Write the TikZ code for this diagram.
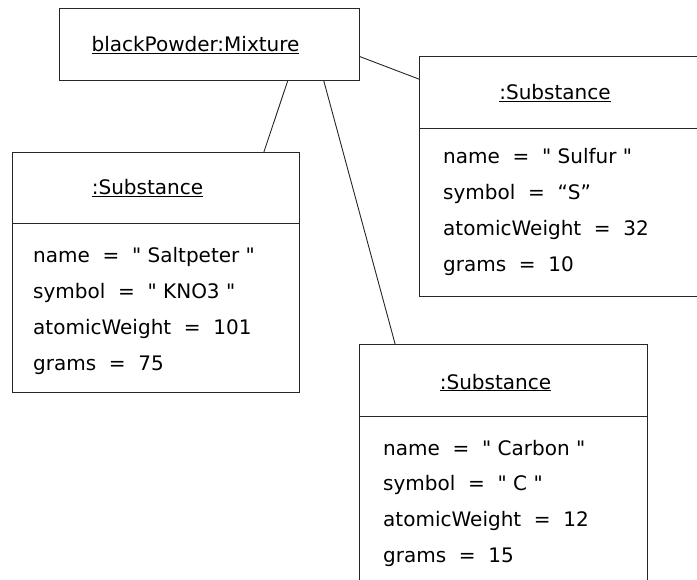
\documentclass[tikz,border=0pt]{standalone}
\usepackage{fontspec}
\newfontfamily\umlfont{DejaVu Sans}
\usetikzlibrary{calc}
\tikzset{
  objbox/.style={draw=black!85, line width=0.9pt, rectangle, inner sep=0pt, anchor=north west},
  ttl/.style={anchor=base, inner sep=0pt, font=\umlfont\fontsize{20}{24}\selectfont},
  attr/.style={anchor=base west, inner sep=0pt, font=\umlfont\fontsize{20}{24}\selectfont},
  link/.style={draw=black!85, line width=0.9pt},
  divider/.style={draw=black!85, line width=0.9pt}
}
\begin{document}
\begin{tikzpicture}[x=1pt,y=-1pt]
\useasboundingbox (0,0) rectangle (697,580);
\clip (0,0) rectangle (697,580);
% boxes
\node[objbox, minimum width=300pt, minimum height=72pt] (mix) at (59,8) {};
\node[objbox, minimum width=287pt, minimum height=240pt] (lb) at (12,152) {};
\node[objbox, minimum width=300pt, minimum height=240pt] (rb) at (419,56) {};
\node[objbox, minimum width=288pt, minimum height=260pt] (bb) at (359,344) {};
% dividers
\draw[divider] ($(lb.north west)+(0,71)$) -- ($(lb.north east)+(0,71)$);
\draw[divider] ($(rb.north west)+(0,72)$) -- ($(rb.north east)+(0,72)$);
\draw[divider] ($(bb.north west)+(0,72)$) -- ($(bb.north east)+(0,72)$);
% titles
\node[ttl] (mixT) at (195.5,52) {\underline{blackPowder:Mixture}};
\node[ttl] (lbT) at (147.5,195) {\underline{:Substance}};
\node[ttl] (rbT) at (555,100) {\underline{:Substance}};
\node[ttl] (bbT) at (495.5,389) {\underline{:Substance}};
% attributes left
\node[attr] (lb1) at (33,263) {name\ \ =\ \ " Saltpeter "};
\node[attr] (lb2) at (33,299) {symbol\ \ =\ \ " KNO3 "};
\node[attr] (lb3) at (33,335) {atomicWeight\ \ =\ \ 101};
\node[attr] (lb4) at (33,371) {grams\ \ =\ \ 75};
% attributes right
\node[attr] (rb1) at (443,164) {name\ \ =\ \ " Sulfur "};
\node[attr] (rb2) at (443,200) {symbol\ \ =\ \ “S”};
\node[attr] (rb3) at (443,236) {atomicWeight\ \ =\ \ 32};
\node[attr] (rb4) at (443,272) {grams\ \ =\ \ 10};
% attributes bottom
\node[attr] (bb1) at (383,455) {name\ \ =\ \ " Carbon "};
\node[attr] (bb2) at (383,490) {symbol\ \ =\ \ " C "};
\node[attr] (bb3) at (383,526) {atomicWeight\ \ =\ \ 12};
\node[attr] (bb4) at (383,562) {grams\ \ =\ \ 15};
% links
\draw[link] ($(mix.south west)!0.76!(mix.south east)$) -- ($(lb.north west)!0.875!(lb.north east)$);
\draw[link] ($(mix.south west)!0.88!(mix.south east)$) -- ($(bb.north west)!0.125!(bb.north east)$);
\draw[link] ($(mix.north east)!0.667!(mix.south east)$) -- ($(rb.north west)!0.096!(rb.south west)$);
\end{tikzpicture}
\end{document}
